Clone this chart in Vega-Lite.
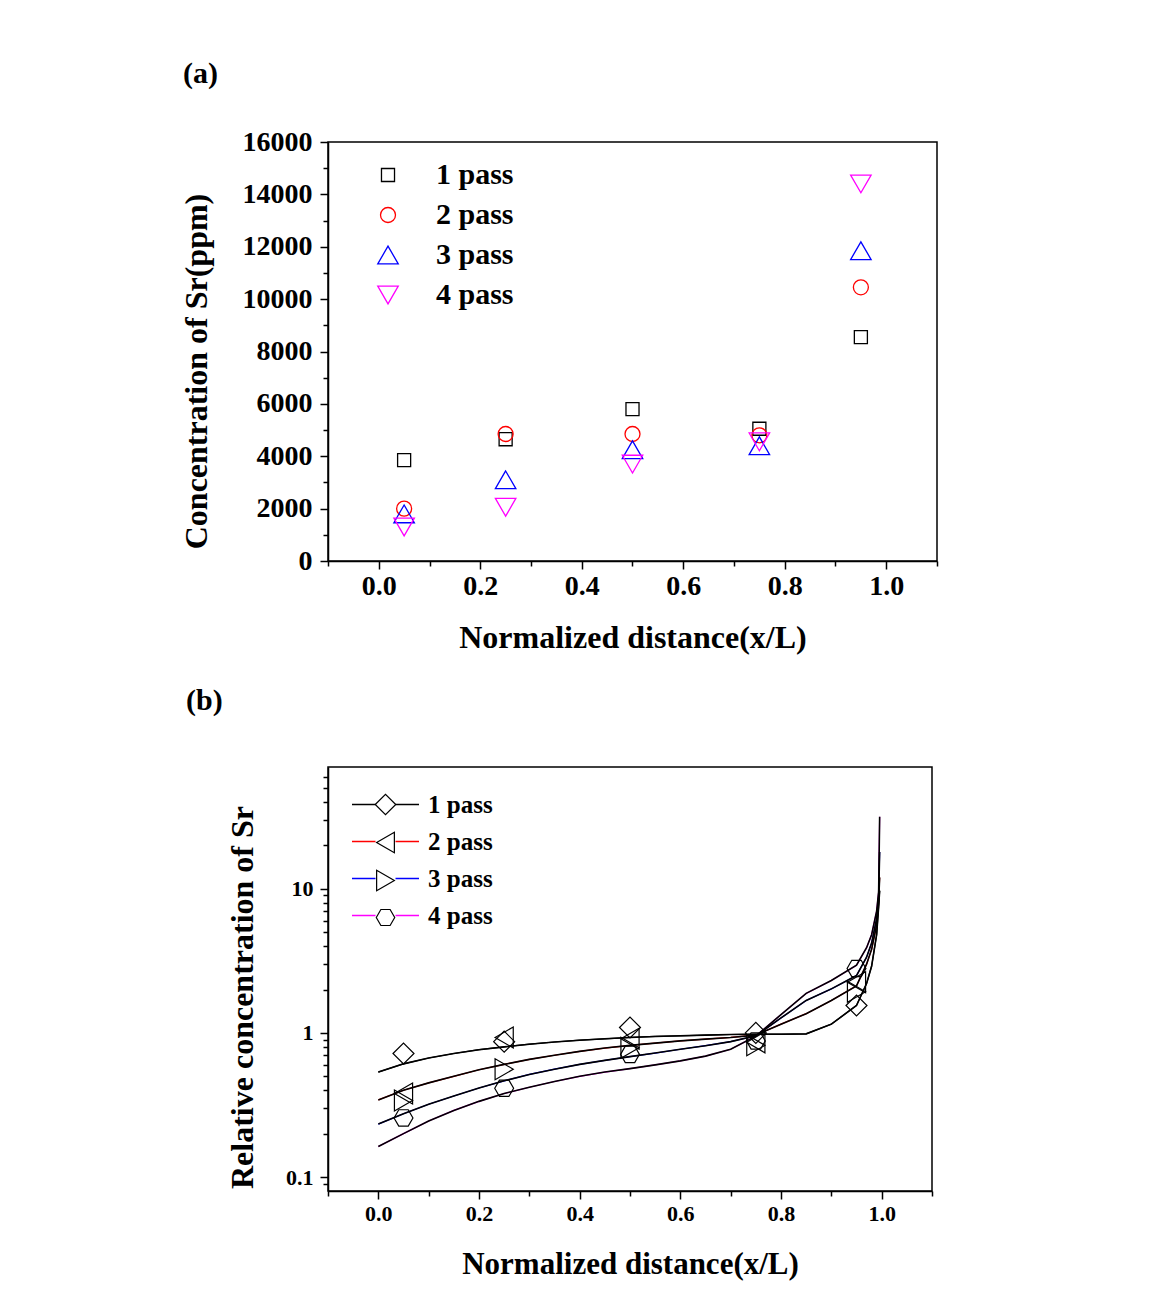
{
  "$schema": "https://vega.github.io/schema/vega-lite/v6.json",
  "background": "white",
  "padding": {"left": 179, "top": 58, "right": 10, "bottom": 10},
  "spacing": 30,
  "resolve": {
    "scale": {"color": "independent", "shape": "independent", "size": "independent", "stroke": "independent"},
    "legend": {"color": "independent", "shape": "independent", "size": "independent", "stroke": "independent"}
  },
  "datasets": {
    "sr": [
      {"pass": "1 pass", "x": 0.05, "c": 3850},
      {"pass": "1 pass", "x": 0.25, "c": 4650},
      {"pass": "1 pass", "x": 0.5, "c": 5800},
      {"pass": "1 pass", "x": 0.75, "c": 5050},
      {"pass": "1 pass", "x": 0.95, "c": 8550},
      {"pass": "2 pass", "x": 0.05, "c": 2000},
      {"pass": "2 pass", "x": 0.25, "c": 4850},
      {"pass": "2 pass", "x": 0.5, "c": 4850},
      {"pass": "2 pass", "x": 0.75, "c": 4800},
      {"pass": "2 pass", "x": 0.95, "c": 10450},
      {"pass": "3 pass", "x": 0.05, "c": 1800},
      {"pass": "3 pass", "x": 0.25, "c": 3100},
      {"pass": "3 pass", "x": 0.5, "c": 4250},
      {"pass": "3 pass", "x": 0.75, "c": 4400},
      {"pass": "3 pass", "x": 0.95, "c": 11850},
      {"pass": "4 pass", "x": 0.05, "c": 1300},
      {"pass": "4 pass", "x": 0.25, "c": 2050},
      {"pass": "4 pass", "x": 0.5, "c": 3700},
      {"pass": "4 pass", "x": 0.75, "c": 4550},
      {"pass": "4 pass", "x": 0.95, "c": 14400}
    ],
    "markers": [
      {"pass": "1 pass", "x": 0.05, "c": 0.72},
      {"pass": "1 pass", "x": 0.25, "c": 0.87},
      {"pass": "1 pass", "x": 0.5, "c": 1.09},
      {"pass": "1 pass", "x": 0.75, "c": 1.0},
      {"pass": "1 pass", "x": 0.95, "c": 1.55},
      {"pass": "2 pass", "x": 0.05, "c": 0.38},
      {"pass": "2 pass", "x": 0.25, "c": 0.93},
      {"pass": "2 pass", "x": 0.5, "c": 0.91},
      {"pass": "2 pass", "x": 0.75, "c": 0.86},
      {"pass": "2 pass", "x": 0.95, "c": 2.25},
      {"pass": "3 pass", "x": 0.05, "c": 0.34},
      {"pass": "3 pass", "x": 0.25, "c": 0.56},
      {"pass": "3 pass", "x": 0.5, "c": 0.79},
      {"pass": "3 pass", "x": 0.75, "c": 0.82},
      {"pass": "3 pass", "x": 0.95, "c": 1.93},
      {"pass": "4 pass", "x": 0.05, "c": 0.257},
      {"pass": "4 pass", "x": 0.25, "c": 0.413},
      {"pass": "4 pass", "x": 0.5, "c": 0.71},
      {"pass": "4 pass", "x": 0.75, "c": 0.88},
      {"pass": "4 pass", "x": 0.95, "c": 2.8}
    ],
    "curves": [
      {"pass": "1 pass", "x": 0, "c": 0.535},
      {"pass": "1 pass", "x": 0.05, "c": 0.61},
      {"pass": "1 pass", "x": 0.1, "c": 0.67},
      {"pass": "1 pass", "x": 0.15, "c": 0.72},
      {"pass": "1 pass", "x": 0.2, "c": 0.765},
      {"pass": "1 pass", "x": 0.25, "c": 0.8},
      {"pass": "1 pass", "x": 0.3, "c": 0.835},
      {"pass": "1 pass", "x": 0.35, "c": 0.865},
      {"pass": "1 pass", "x": 0.4, "c": 0.89},
      {"pass": "1 pass", "x": 0.45, "c": 0.91},
      {"pass": "1 pass", "x": 0.5, "c": 0.93},
      {"pass": "1 pass", "x": 0.55, "c": 0.945},
      {"pass": "1 pass", "x": 0.6, "c": 0.955},
      {"pass": "1 pass", "x": 0.65, "c": 0.965},
      {"pass": "1 pass", "x": 0.7, "c": 0.975},
      {"pass": "1 pass", "x": 0.75, "c": 0.98},
      {"pass": "1 pass", "x": 0.8, "c": 0.98},
      {"pass": "1 pass", "x": 0.85, "c": 0.985},
      {"pass": "1 pass", "x": 0.9, "c": 1.15},
      {"pass": "1 pass", "x": 0.95, "c": 1.55},
      {"pass": "1 pass", "x": 0.97, "c": 2.2},
      {"pass": "1 pass", "x": 0.98, "c": 2.9},
      {"pass": "1 pass", "x": 0.99, "c": 4.8},
      {"pass": "1 pass", "x": 0.994, "c": 7.5},
      {"pass": "1 pass", "x": 0.996, "c": 9.7},
      {"pass": "2 pass", "x": 0, "c": 0.343},
      {"pass": "2 pass", "x": 0.05, "c": 0.4},
      {"pass": "2 pass", "x": 0.1, "c": 0.45},
      {"pass": "2 pass", "x": 0.15, "c": 0.5},
      {"pass": "2 pass", "x": 0.2, "c": 0.555},
      {"pass": "2 pass", "x": 0.25, "c": 0.605},
      {"pass": "2 pass", "x": 0.3, "c": 0.655},
      {"pass": "2 pass", "x": 0.35, "c": 0.7},
      {"pass": "2 pass", "x": 0.4, "c": 0.745},
      {"pass": "2 pass", "x": 0.45, "c": 0.785},
      {"pass": "2 pass", "x": 0.5, "c": 0.82},
      {"pass": "2 pass", "x": 0.55, "c": 0.85},
      {"pass": "2 pass", "x": 0.6, "c": 0.88},
      {"pass": "2 pass", "x": 0.65, "c": 0.905},
      {"pass": "2 pass", "x": 0.7, "c": 0.93},
      {"pass": "2 pass", "x": 0.75, "c": 0.965},
      {"pass": "2 pass", "x": 0.8, "c": 1.15},
      {"pass": "2 pass", "x": 0.85, "c": 1.36},
      {"pass": "2 pass", "x": 0.9, "c": 1.68},
      {"pass": "2 pass", "x": 0.95, "c": 2.12},
      {"pass": "2 pass", "x": 0.97, "c": 3.0},
      {"pass": "2 pass", "x": 0.98, "c": 3.8},
      {"pass": "2 pass", "x": 0.99, "c": 5.6},
      {"pass": "2 pass", "x": 0.994, "c": 8.2},
      {"pass": "2 pass", "x": 0.996, "c": 12},
      {"pass": "3 pass", "x": 0, "c": 0.233},
      {"pass": "3 pass", "x": 0.05, "c": 0.275},
      {"pass": "3 pass", "x": 0.1, "c": 0.32},
      {"pass": "3 pass", "x": 0.15, "c": 0.365},
      {"pass": "3 pass", "x": 0.2, "c": 0.415},
      {"pass": "3 pass", "x": 0.25, "c": 0.465},
      {"pass": "3 pass", "x": 0.3, "c": 0.515},
      {"pass": "3 pass", "x": 0.35, "c": 0.56},
      {"pass": "3 pass", "x": 0.4, "c": 0.605},
      {"pass": "3 pass", "x": 0.45, "c": 0.645},
      {"pass": "3 pass", "x": 0.5, "c": 0.685},
      {"pass": "3 pass", "x": 0.55, "c": 0.725},
      {"pass": "3 pass", "x": 0.6, "c": 0.77},
      {"pass": "3 pass", "x": 0.65, "c": 0.815},
      {"pass": "3 pass", "x": 0.7, "c": 0.87},
      {"pass": "3 pass", "x": 0.75, "c": 0.955},
      {"pass": "3 pass", "x": 0.8, "c": 1.27},
      {"pass": "3 pass", "x": 0.85, "c": 1.68},
      {"pass": "3 pass", "x": 0.9, "c": 2.02},
      {"pass": "3 pass", "x": 0.95, "c": 2.5},
      {"pass": "3 pass", "x": 0.97, "c": 3.35},
      {"pass": "3 pass", "x": 0.98, "c": 4.2},
      {"pass": "3 pass", "x": 0.99, "c": 6.2},
      {"pass": "3 pass", "x": 0.994, "c": 8.8},
      {"pass": "3 pass", "x": 0.996, "c": 18},
      {"pass": "4 pass", "x": 0, "c": 0.163},
      {"pass": "4 pass", "x": 0.05, "c": 0.2},
      {"pass": "4 pass", "x": 0.1, "c": 0.245},
      {"pass": "4 pass", "x": 0.15, "c": 0.29},
      {"pass": "4 pass", "x": 0.2, "c": 0.335},
      {"pass": "4 pass", "x": 0.25, "c": 0.38},
      {"pass": "4 pass", "x": 0.3, "c": 0.42},
      {"pass": "4 pass", "x": 0.35, "c": 0.46},
      {"pass": "4 pass", "x": 0.4, "c": 0.5},
      {"pass": "4 pass", "x": 0.45, "c": 0.535},
      {"pass": "4 pass", "x": 0.5, "c": 0.565},
      {"pass": "4 pass", "x": 0.55, "c": 0.6},
      {"pass": "4 pass", "x": 0.6, "c": 0.64},
      {"pass": "4 pass", "x": 0.65, "c": 0.69},
      {"pass": "4 pass", "x": 0.7, "c": 0.77},
      {"pass": "4 pass", "x": 0.75, "c": 0.95},
      {"pass": "4 pass", "x": 0.8, "c": 1.34},
      {"pass": "4 pass", "x": 0.85, "c": 1.88},
      {"pass": "4 pass", "x": 0.9, "c": 2.31},
      {"pass": "4 pass", "x": 0.95, "c": 2.95},
      {"pass": "4 pass", "x": 0.97, "c": 3.9},
      {"pass": "4 pass", "x": 0.98, "c": 4.8},
      {"pass": "4 pass", "x": 0.99, "c": 7.0},
      {"pass": "4 pass", "x": 0.994, "c": 9.5},
      {"pass": "4 pass", "x": 0.996, "c": 31.6}
    ]
  },
  "vconcat": [
    {
      "width": 609,
      "height": 419,
      "title": {"text": "(a)", "anchor": "start", "frame": "group", "dx": -145, "offset": 39, "fontSize": 30, "font": "Liberation Serif", "fontWeight": "bold", "color": "black"},
      "data": {"name": "sr"},
      "mark": {"type": "point", "filled": false, "strokeWidth": 1.3, "opacity": 1},
      "encoding": {
        "x": {
          "field": "x", "type": "quantitative",
          "scale": {"domain": [-0.1, 1.1], "nice": false, "zero": false},
          "axis": {
            "title": "Normalized distance(x/L)",
            "values": [-0.1, 0, 0.1, 0.2, 0.3, 0.4, 0.5, 0.6, 0.7, 0.8, 0.9, 1.0, 1.1],
            "labelExpr": "(round(datum.value*10) % 2 == 0 && datum.value > -0.05 && datum.value < 1.05) ? format(datum.value, '.1f') : ''",
            "tickSize": {"condition": {"test": "round(datum.value*10) % 2 != 0", "value": 5}, "value": 8},
            "labelFontSize": 28, "labelPadding": 3, "titleFontSize": 32, "titlePadding": 22
          }
        },
        "y": {
          "field": "c", "type": "quantitative",
          "scale": {"domain": [0, 16000], "nice": false},
          "axis": {
            "title": "Concentration of Sr(ppm)",
            "values": [0, 1000, 2000, 3000, 4000, 5000, 6000, 7000, 8000, 9000, 10000, 11000, 12000, 13000, 14000, 15000, 16000],
            "format": "d",
            "labelExpr": "datum.value % 2000 == 0 ? format(datum.value, 'd') : ''",
            "tickSize": {"condition": {"test": "datum.value % 2000 != 0", "value": 5}, "value": 8},
            "labelFontSize": 28, "labelPadding": 8, "titleFontSize": 32, "titlePadding": 29, "titleY": 229
          }
        },
        "color": {
          "field": "pass", "type": "nominal",
          "scale": {"range": ["#000000", "#ff0000", "#0000ff", "#ff00ff"]},
          "legend": {"title": null, "orient": "none", "legendX": 45, "legendY": 18, "padding": 0, "labelFontSize": 30, "labelOffset": 33, "rowPadding": 10, "symbolStrokeWidth": 1.3}
        },
        "shape": {
          "field": "pass", "type": "nominal",
          "scale": {"range": ["square", "circle", "triangle-up", "triangle-down"]}
        },
        "size": {
          "field": "pass", "type": "nominal",
          "scale": {"type": "ordinal", "range": [170, 225, 420, 420]}
        }
      }
    },
    {
      "width": 604,
      "height": 424,
      "title": {"text": "(b)", "anchor": "start", "frame": "group", "dx": -142, "offset": 50, "fontSize": 30, "font": "Liberation Serif", "fontWeight": "bold", "color": "black"},
      "encoding": {
        "x": {
          "field": "x", "type": "quantitative",
          "scale": {"domain": [-0.1, 1.1], "nice": false, "zero": false},
          "axis": {
            "title": "Normalized distance(x/L)",
            "values": [-0.1, 0, 0.1, 0.2, 0.3, 0.4, 0.5, 0.6, 0.7, 0.8, 0.9, 1.0, 1.1],
            "labelExpr": "(round(datum.value*10) % 2 == 0 && datum.value > -0.05 && datum.value < 1.05) ? format(datum.value, '.1f') : ''",
            "tickSize": {"condition": {"test": "round(datum.value*10) % 2 != 0", "value": 5}, "value": 8},
            "labelFontSize": 22, "labelPadding": 4, "titleFontSize": 31, "titlePadding": 25
          }
        },
        "y": {
          "field": "c", "type": "quantitative",
          "scale": {"type": "log", "domain": [0.08, 70], "nice": false},
          "axis": {
            "title": "Relative concentration of Sr",
            "values": [0.09, 0.1, 0.2, 0.3, 0.4, 0.5, 0.6, 0.7, 0.8, 0.9, 1, 2, 3, 4, 5, 6, 7, 8, 9, 10, 20, 30, 40, 50, 60],
            "labelExpr": "datum.value == 0.1 ? '0.1' : (datum.value == 1 ? '1' : (datum.value == 10 ? '10' : ''))",
            "tickSize": {"condition": {"test": "datum.value != 0.1 && datum.value != 1 && datum.value != 10", "value": 5}, "value": 8},
            "labelFontSize": 22, "labelPadding": 7, "titleFontSize": 32, "titlePadding": 26, "titleY": 230
          }
        }
      },
      "layer": [
        {
          "data": {"name": "curves"},
          "mark": {"type": "line", "strokeWidth": 1.2},
          "encoding": {
            "stroke": {
              "field": "pass", "type": "nominal",
              "scale": {"domain": ["1 pass", "2 pass", "3 pass", "4 pass"], "range": ["#000000", "#ff0000", "#0000ff", "#ff00ff"]},
              "legend": {"title": null, "orient": "none", "legendX": 45, "legendY": 25, "padding": 0, "symbolType": "M -6.7 0 L -2 0 M 2 0 L 6.7 0", "symbolSize": 100, "symbolStrokeWidth": 1.3, "symbolFillColor": "transparent", "labelFontSize": 25, "labelOffset": 30, "rowPadding": 11}
            }
          }
        },
        {
          "data": {"name": "curves"},
          "mark": {"type": "line", "strokeWidth": 1.6, "color": "black"},
          "encoding": {"detail": {"field": "pass", "type": "nominal"}}
        },
        {
          "data": {"name": "markers"},
          "mark": {"type": "point", "filled": false, "stroke": "black", "strokeWidth": 1.2, "size": 440, "opacity": 1},
          "encoding": {
            "shape": {
              "field": "pass", "type": "nominal",
              "scale": {"range": ["diamond", "triangle-left", "triangle-right", "M -0.9 0 L -0.45 -0.78 L 0.45 -0.78 L 0.9 0 L 0.45 0.78 L -0.45 0.78 Z"]},
              "legend": {"title": null, "orient": "none", "legendX": 45, "legendY": 25, "padding": 0, "symbolSize": 420, "symbolStrokeWidth": 1.2, "labelFontSize": 25, "labelExpr": "''", "rowPadding": 11}
            }
          }
        }
      ]
    }
  ],
  "config": {
    "font": "Liberation Serif",
    "view": {"stroke": "black", "strokeWidth": 1.5},
    "axis": {
      "grid": false,
      "domainColor": "black", "domainWidth": 1.5,
      "tickColor": "black", "tickWidth": 1.5,
      "labelColor": "black", "titleColor": "black",
      "labelFont": "Liberation Serif", "titleFont": "Liberation Serif",
      "labelFontWeight": "bold", "titleFontWeight": "bold",
      "labelFlush": false, "labelOverlap": false
    },
    "legend": {
      "labelFont": "Liberation Serif", "labelFontWeight": "bold", "labelColor": "black"
    }
  }
}
